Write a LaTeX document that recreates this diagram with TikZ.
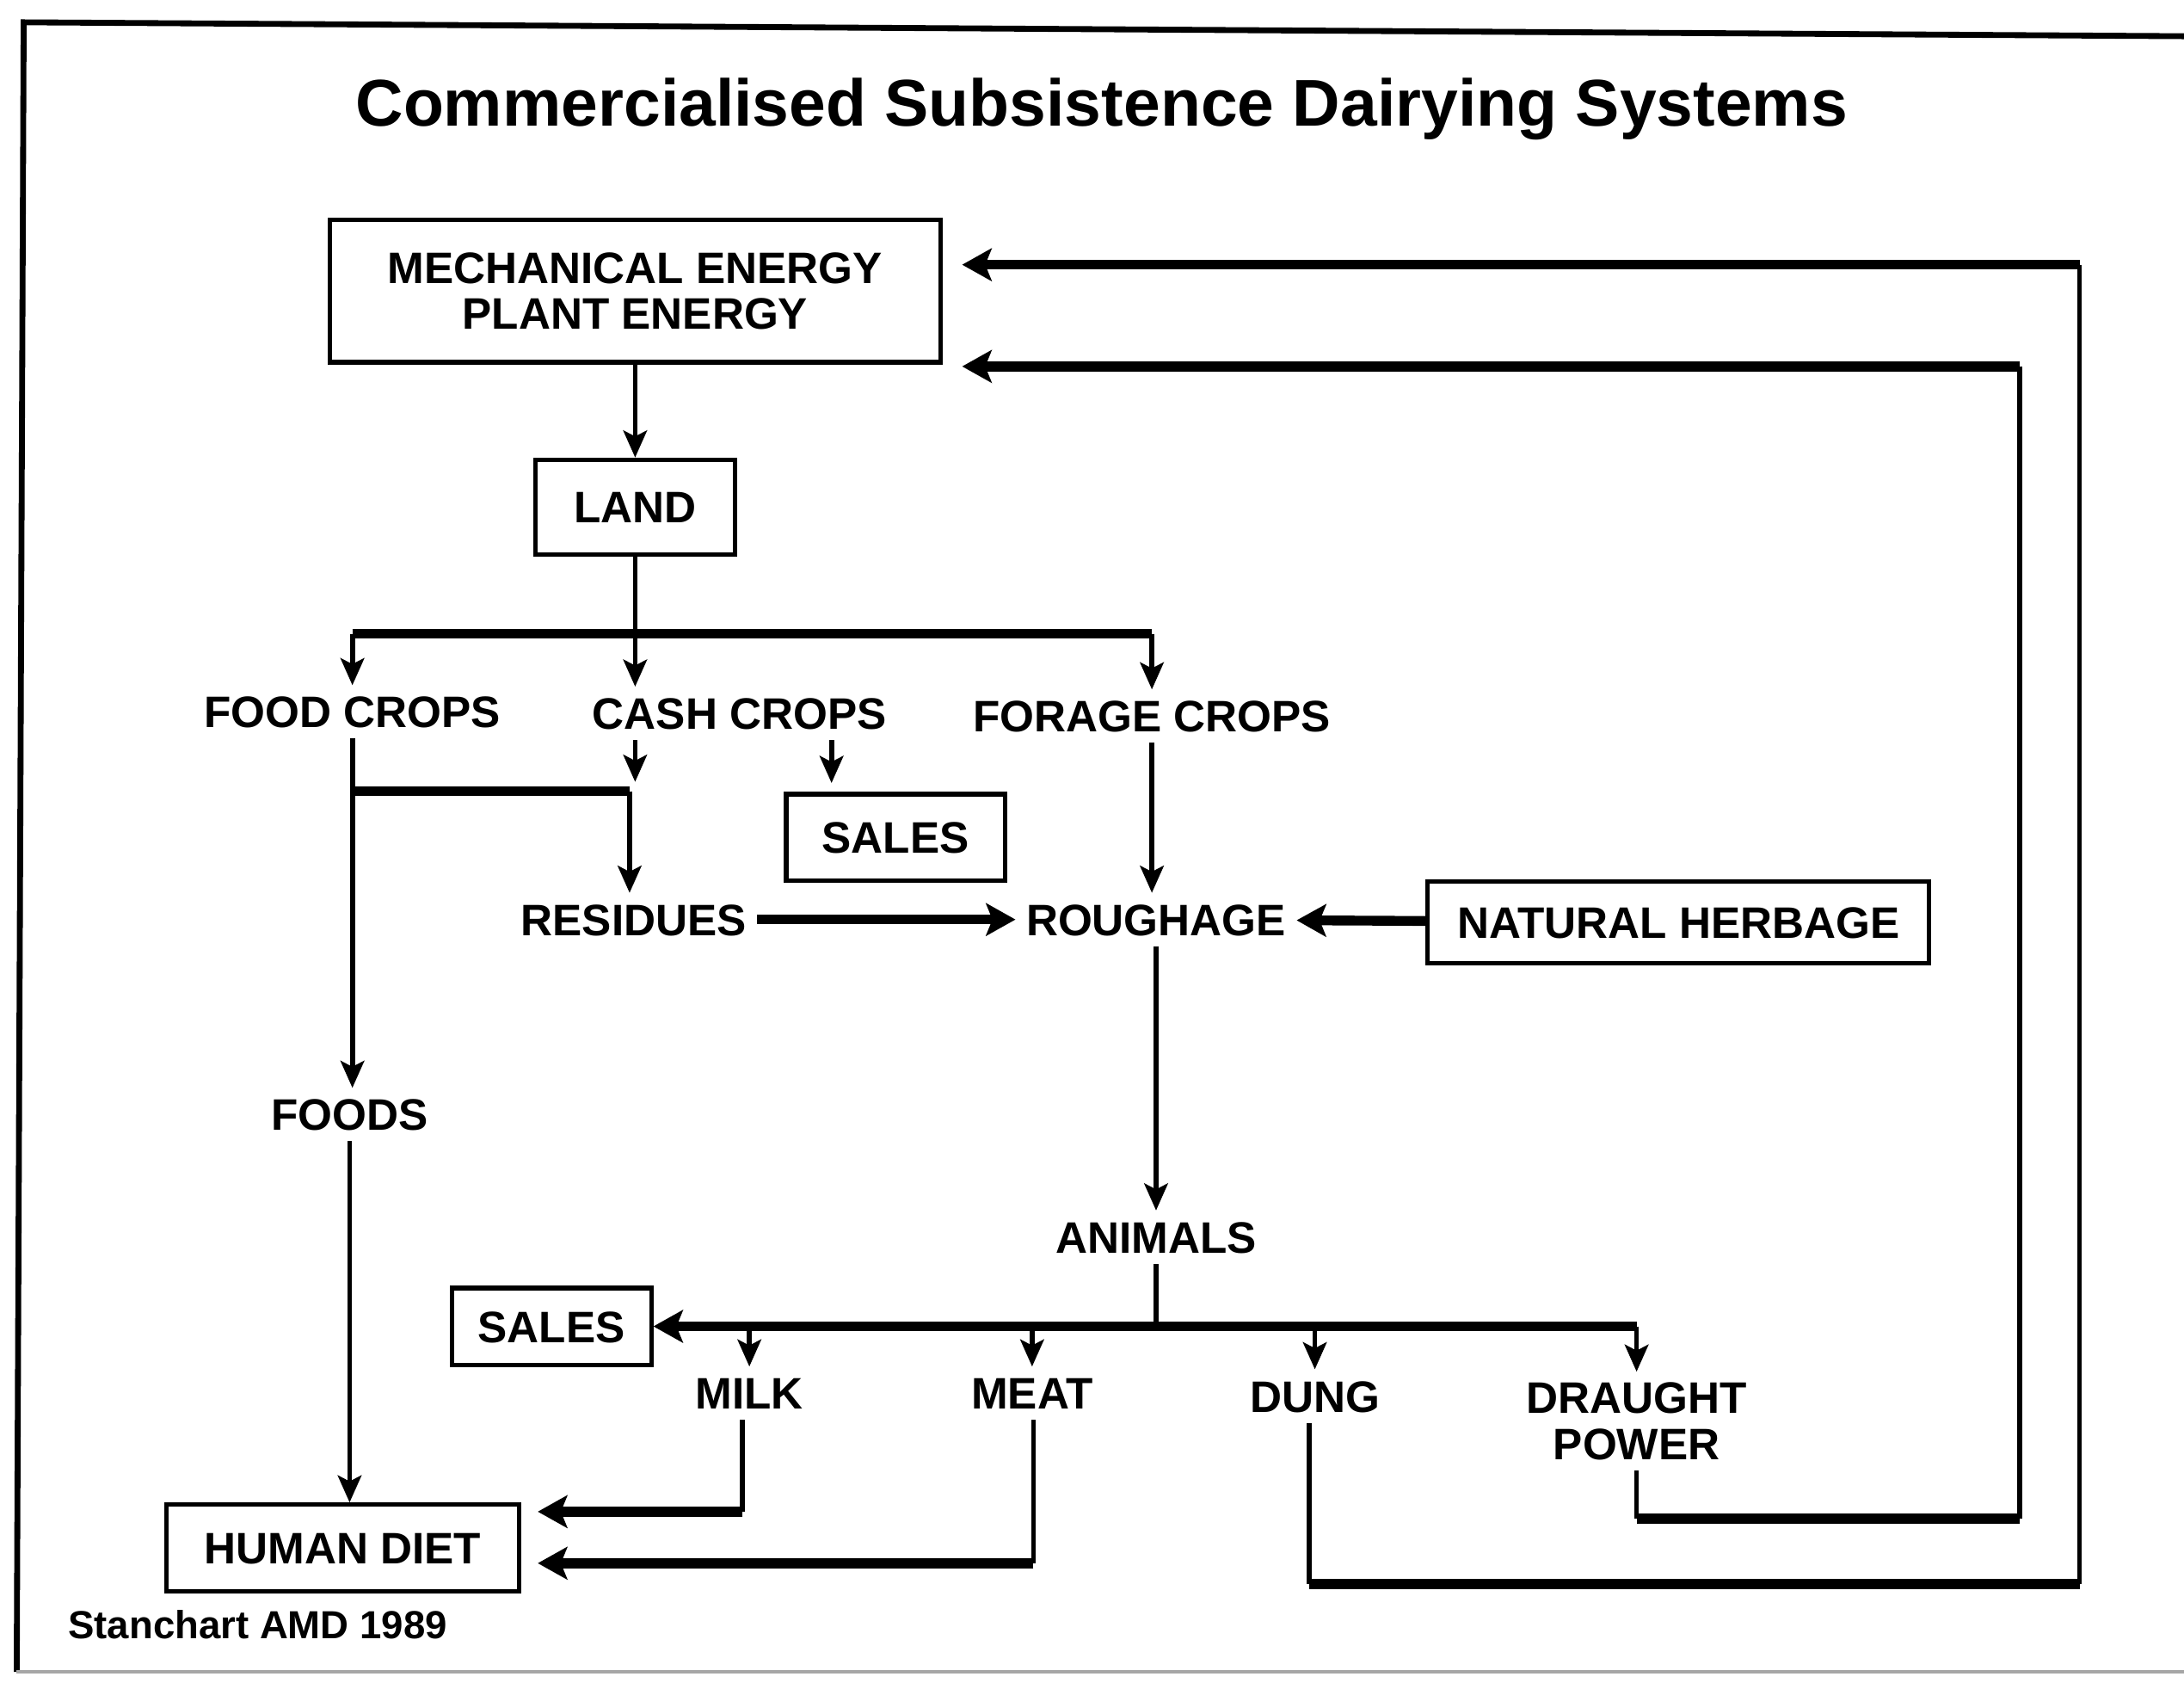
\documentclass[tikz,border=0pt]{standalone}
\usepackage{fontspec}
\setmainfont{Liberation Sans}
\usetikzlibrary{arrows.meta}

\begin{document}
\begin{tikzpicture}[x=0.01cm, y=-0.01cm, line join=miter,
    every node/.style={font=\bfseries\fontsize{9}{9.4}\selectfont, inner sep=2pt},
    lbl/.style={text height=6.5pt, text depth=0pt},
    box/.style={draw, line width=0.9pt, align=center},
    thinln/.style={line width=1pt},
    thickln/.style={line width=2pt},
    tipv/.style={-{Stealth[length=5.5pt,width=4.8pt,inset=1.2pt]}},
    tiph/.style={-{Stealth[length=6pt,width=6.6pt,inset=1.3pt]}}]

    \useasboundingbox (0,0) rectangle (1568,1212);

    % frame
    \draw[line width=1.2pt] (1568,26) -- (17,16) -- (12,1200);
    \draw[black!35, line width=0.6pt] (12,1200) -- (1568,1200);

    \node[font=\bfseries\fontsize{13.5}{16}\selectfont] (title) at (791,78) {Commercialised Subsistence Dairying Systems};

    % boxes and labels
    \node[box, minimum width=4.38cm, minimum height=1.02cm] (mech) at (456,209) {MECHANICAL ENERGY\\PLANT ENERGY};
    \node[box, lbl, minimum width=1.43cm, minimum height=0.68cm] (land) at (456,364) {LAND};

    \node[lbl] (food) at (253,511) {FOOD CROPS};
    \node[lbl] (cash) at (531,512) {CASH CROPS};
    \node[lbl] (forage) at (827,514) {FORAGE CROPS};
    \node[box, lbl, minimum width=1.57cm, minimum height=0.62cm] (sales1) at (643,601) {SALES};

    \node[lbl] (residues) at (455,660) {RESIDUES};
    \node[lbl] (roughage) at (830,660) {ROUGHAGE};
    \node[box, lbl, minimum width=3.60cm, minimum height=0.59cm] (herbage) at (1205,662) {NATURAL HERBAGE};

    \node[lbl] (foods) at (251,800) {FOODS};
    \node[lbl] (animals) at (830,888) {ANIMALS};
    \node[box, lbl, minimum width=1.43cm, minimum height=0.55cm] (sales2) at (396,952) {SALES};

    \node[lbl] (milk) at (538,1000) {MILK};
    \node[lbl] (meat) at (741,1000) {MEAT};
    \node[lbl] (dung) at (944,1002) {DUNG};
    \node[align=center] (draught) at (1175,1020) {DRAUGHT\\POWER};

    \node[box, lbl, minimum width=2.53cm, minimum height=0.62cm] (diet) at (246,1111) {HUMAN DIET};
    \node[font=\bfseries\fontsize{8}{9}\selectfont] (credit) at (185,1166) {Stanchart AMD 1989};

    % bend points
    \coordinate (split) at (456,455);
    \coordinate (tosale) at (597,562);
    \coordinate (resbend) at (452,568);
    \coordinate (fork) at (830,952);
    \coordinate (milkbend) at (533,1085);
    \coordinate (meatbend) at (742,1122);
    \coordinate (dungbend) at (940,1137);
    \coordinate (dungright) at (1493,1137);
    \coordinate (dungtop) at (1493,190);
    \coordinate (drbend) at (1175,1090);
    \coordinate (drright) at (1450,1090);
    \coordinate (drtop) at (1450,263);

    % land and crops
    \draw[thinln,tipv] (mech) -- (land);
    \draw[thinln,tipv] (land) -- (land |- cash.north);
    \draw[thickln] (split -| food) -- (split -| forage);
    \draw[thinln,tipv] (split -| food) -- (food);
    \draw[thinln,tipv] (split -| forage) -- (forage);
    \draw[thinln,tipv] (cash.south -| split) -- ++(0,30);
    \draw[thinln,tipv] (cash.south -| tosale) -- (tosale);

    \draw[thinln,tipv] (food) -- (food |- foods.north);
    \draw[thickln] (resbend -| food) -- (resbend);
    \draw[thinln,tipv] (resbend) -- (resbend |- residues.north);
    \draw[thinln,tipv] (forage) -- (forage |- roughage.north);
    \draw[thickln,tiph] (residues) -- (roughage);
    \draw[thickln,tiph] (herbage) -- (roughage);

    % animals and products
    \draw[thinln,tipv] (roughage) -- (animals);
    \draw[thinln] (animals) -- (fork);
    \draw[thickln,tiph] (fork -| draught) -- (sales2);
    \foreach \n in {milk,meat,dung,draught}
        \draw[thinln,tipv] (fork -| \n) -- (\n);

    \draw[thinln,tipv] (foods) -- (foods |- diet.north);
    \draw[thinln] (milkbend |- milk.south) -- (milkbend);
    \draw[thickln,tiph,shorten >=3.4pt] (milkbend) -- (milkbend -| diet.east);
    \draw[thinln] (meatbend |- meat.south) -- (meatbend);
    \draw[thickln,tiph,shorten >=3.4pt] (meatbend) -- (meatbend -| diet.east);

    % feedback to energy
    \draw[thinln] (dungbend |- dung.south) -- (dungbend);
    \draw[thickln] (dungbend) -- (dungright);
    \draw[thinln] (dungright) -- (dungtop);
    \draw[thickln,tiph,shorten >=4pt] (dungtop) -- (dungtop -| mech.east);
    \draw[thinln] (drbend |- draught.south) -- (drbend);
    \draw[thickln] (drbend) -- (drright);
    \draw[thinln] (drright) -- (drtop);
    \draw[thickln,tiph,shorten >=4pt] (drtop) -- (drtop -| mech.east);

\end{tikzpicture}
\end{document}
